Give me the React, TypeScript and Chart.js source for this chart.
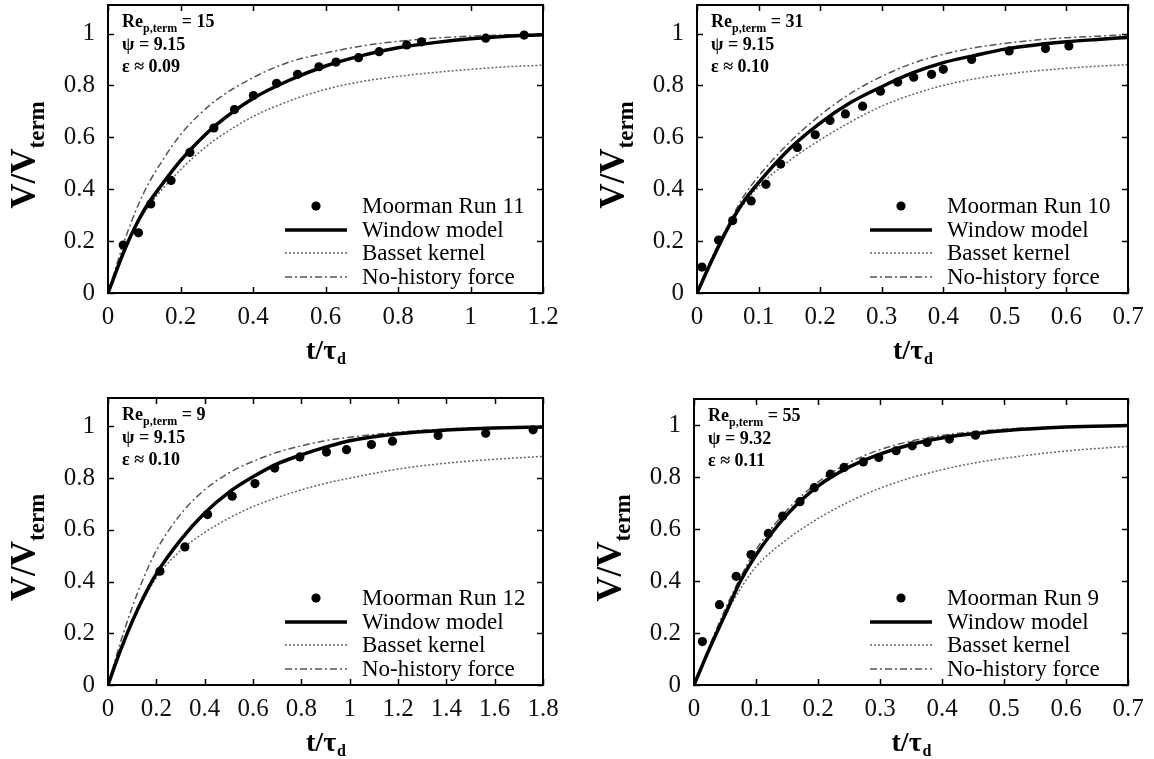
import React, { useEffect, useRef } from "react";
import { Chart, registerables } from "chart.js";

Chart.register(...registerables);

const FONT = '"Liberation Serif", "Times New Roman", serif';

// ---------- Shared tick labels ----------
const yTicks = [0, 0.2, 0.4, 0.6, 0.8, 1];
const xTicks1 = [0, 0.2, 0.4, 0.6, 0.8, 1, 1.2];
const xTicks2 = [0, 0.1, 0.2, 0.3, 0.4, 0.5, 0.6, 0.7];
const xTicks3 = [0, 0.2, 0.4, 0.6, 0.8, 1, 1.2, 1.4, 1.6, 1.8];
const xTicks4 = [0, 0.1, 0.2, 0.3, 0.4, 0.5, 0.6, 0.7];

// ---------- Panel 1: Moorman Run 11 ----------
const run11X = [0.042, 0.084, 0.118, 0.174, 0.226, 0.292, 0.349, 0.401, 0.465, 0.523, 0.582, 0.629, 0.691, 0.748, 0.824, 0.865, 1.042, 1.148];
const run11Y = [0.185, 0.232, 0.343, 0.434, 0.542, 0.636, 0.707, 0.761, 0.808, 0.843, 0.872, 0.89, 0.907, 0.93, 0.956, 0.968, 0.982, 0.994];
const curve1X = [0, 0.05, 0.1, 0.15, 0.2, 0.25, 0.3, 0.4, 0.5, 0.6, 0.7, 0.8, 0.9, 1.0, 1.1, 1.2];
const window1Y = [0, 0.18, 0.32, 0.42, 0.51, 0.585, 0.65, 0.75, 0.82, 0.875, 0.915, 0.945, 0.965, 0.98, 0.99, 0.995];
const basset1Y = [0, 0.18, 0.31, 0.4, 0.475, 0.54, 0.595, 0.68, 0.74, 0.785, 0.815, 0.835, 0.85, 0.862, 0.872, 0.878];
const nohist1Y = [0, 0.22, 0.39, 0.51, 0.61, 0.685, 0.745, 0.83, 0.89, 0.925, 0.952, 0.97, 0.982, 0.99, 0.995, 0.998];

// ---------- Panel 2: Moorman Run 10 ----------
const run10X = [0.008, 0.035, 0.058, 0.088, 0.112, 0.136, 0.163, 0.192, 0.216, 0.241, 0.269, 0.298, 0.326, 0.352, 0.381, 0.4, 0.446, 0.507, 0.566, 0.604];
const run10Y = [0.1, 0.204, 0.279, 0.355, 0.419, 0.497, 0.561, 0.61, 0.665, 0.69, 0.72, 0.778, 0.813, 0.832, 0.843, 0.862, 0.9, 0.933, 0.942, 0.952];
const curve2X = [0, 0.025, 0.05, 0.075, 0.1, 0.15, 0.2, 0.25, 0.3, 0.35, 0.4, 0.45, 0.5, 0.55, 0.6, 0.65, 0.7];
const window2Y = [0, 0.13, 0.25, 0.35, 0.425, 0.555, 0.655, 0.735, 0.795, 0.848, 0.888, 0.915, 0.94, 0.956, 0.968, 0.977, 0.985];
const basset2Y = [0, 0.13, 0.245, 0.34, 0.41, 0.51, 0.59, 0.66, 0.72, 0.765, 0.8, 0.825, 0.843, 0.856, 0.866, 0.874, 0.88];
const nohist2Y = [0, 0.14, 0.26, 0.37, 0.45, 0.58, 0.685, 0.77, 0.835, 0.885, 0.92, 0.945, 0.962, 0.975, 0.984, 0.99, 0.995];

// ---------- Panel 3: Moorman Run 12 ----------
const run12X = [0.215, 0.318, 0.412, 0.514, 0.608, 0.69, 0.794, 0.904, 0.987, 1.09, 1.177, 1.366, 1.563, 1.759];
const run12Y = [0.44, 0.534, 0.659, 0.73, 0.779, 0.839, 0.882, 0.901, 0.91, 0.93, 0.943, 0.965, 0.974, 0.987];
const curve3X = [0, 0.05, 0.1, 0.15, 0.2, 0.3, 0.4, 0.5, 0.6, 0.7, 0.8, 0.9, 1.0, 1.2, 1.4, 1.6, 1.8];
const window3Y = [0, 0.13, 0.245, 0.345, 0.43, 0.56, 0.665, 0.745, 0.805, 0.855, 0.89, 0.92, 0.945, 0.972, 0.986, 0.994, 0.998];
const basset3Y = [0, 0.13, 0.24, 0.335, 0.415, 0.52, 0.59, 0.645, 0.69, 0.725, 0.755, 0.78, 0.8, 0.835, 0.858, 0.873, 0.884];
const nohist3Y = [0, 0.16, 0.3, 0.42, 0.52, 0.66, 0.755, 0.82, 0.865, 0.9, 0.925, 0.945, 0.958, 0.978, 0.99, 0.996, 0.999];

// ---------- Panel 4: Moorman Run 9 ----------
const run9X = [0.0135, 0.041, 0.068, 0.092, 0.12, 0.143, 0.171, 0.194, 0.22, 0.242, 0.273, 0.298, 0.326, 0.352, 0.376, 0.412, 0.454];
const run9Y = [0.167, 0.309, 0.418, 0.502, 0.583, 0.65, 0.705, 0.759, 0.811, 0.837, 0.858, 0.875, 0.901, 0.92, 0.933, 0.946, 0.961];
const curve4X = [0, 0.025, 0.05, 0.075, 0.1, 0.15, 0.2, 0.25, 0.3, 0.35, 0.4, 0.45, 0.5, 0.6, 0.7];
const window4Y = [0, 0.14, 0.27, 0.4, 0.5, 0.655, 0.765, 0.838, 0.888, 0.925, 0.95, 0.966, 0.978, 0.992, 0.998];
const basset4Y = [0, 0.14, 0.265, 0.37, 0.455, 0.56, 0.64, 0.705, 0.757, 0.797, 0.828, 0.853, 0.872, 0.9, 0.918];
const nohist4Y = [0, 0.15, 0.29, 0.415, 0.52, 0.672, 0.78, 0.855, 0.905, 0.938, 0.96, 0.974, 0.984, 0.994, 0.999];

// ---------- Labels ----------
const seriesLabels = ["Window model", "Basset kernel", "No-history force"];
const runLabels = ["Moorman Run 11", "Moorman Run 10", "Moorman Run 12", "Moorman Run 9"];
const reValues = ["15", "31", "9", "55"];
const psiValues = ["9.15", "9.15", "9.15", "9.32"];
const epsValues = ["0.09", "0.10", "0.10", "0.11"];

const zip = (xs: number[], ys: number[]) => xs.map((x, i) => ({ x, y: ys[i] }));

type PanelCfg = {
  left: number; top: number; w: number; h: number;
  plotL: number; plotR: number; plotT: number; plotB: number;
  xMax: number; yMax: number; xTicks: number[];
  runX: number[]; runY: number[]; curveX: number[];
  windowY: number[]; bassetY: number[]; nohistY: number[];
  idx: number;
};

const panels: PanelCfg[] = [
  { left: 0, top: 0, w: 577, h: 380, plotL: 108, plotR: 543, plotT: 5, plotB: 293, xMax: 1.2, yMax: 1.11, xTicks: xTicks1,
    runX: run11X, runY: run11Y, curveX: curve1X, windowY: window1Y, bassetY: basset1Y, nohistY: nohist1Y, idx: 0 },
  { left: 577, top: 0, w: 577, h: 380, plotL: 697, plotR: 1128, plotT: 5, plotB: 293, xMax: 0.7, yMax: 1.11, xTicks: xTicks2,
    runX: run10X, runY: run10Y, curveX: curve2X, windowY: window2Y, bassetY: basset2Y, nohistY: nohist2Y, idx: 1 },
  { left: 0, top: 380, w: 577, h: 379, plotL: 108, plotR: 543, plotT: 398, plotB: 685, xMax: 1.8, yMax: 1.11, xTicks: xTicks3,
    runX: run12X, runY: run12Y, curveX: curve3X, windowY: window3Y, bassetY: basset3Y, nohistY: nohist3Y, idx: 2 },
  { left: 577, top: 380, w: 577, h: 379, plotL: 694, plotR: 1128, plotT: 399, plotB: 685, xMax: 0.7, yMax: 1.1, xTicks: xTicks4,
    runX: run9X, runY: run9Y, curveX: curve4X, windowY: window4Y, bassetY: basset4Y, nohistY: nohist4Y, idx: 3 },
];

const BASSET_COLOR = "#666";
const NOHIST_COLOR = "#555";
const BASSET_DASH = [2, 2];
const NOHIST_DASH = [7, 3, 2, 3];

function makeDecor(idx: number) {
  return {
    id: "decor" + idx,
    afterDraw(chart: any) {
      const { ctx, chartArea } = chart;
      const { left, right, top, bottom } = chartArea;
      const xs = chart.scales.x;
      const ys = chart.scales.y;
      ctx.save();
      // frame
      ctx.strokeStyle = "#000";
      ctx.lineWidth = 2;
      ctx.setLineDash([]);
      ctx.strokeRect(left, top, right - left, bottom - top);
      // inward tick marks
      ctx.lineWidth = 1.5;
      const tl = 6;
      xs.ticks.forEach((t: any) => {
        const px = Math.round(xs.getPixelForValue(t.value)) + 0.5;
        ctx.beginPath();
        ctx.moveTo(px, bottom); ctx.lineTo(px, bottom - tl);
        ctx.moveTo(px, top); ctx.lineTo(px, top + tl);
        ctx.stroke();
      });
      ys.ticks.forEach((t: any) => {
        const py = Math.round(ys.getPixelForValue(t.value)) + 0.5;
        ctx.beginPath();
        ctx.moveTo(left, py); ctx.lineTo(left + tl, py);
        ctx.moveTo(right, py); ctx.lineTo(right - tl, py);
        ctx.stroke();
      });

      ctx.fillStyle = "#000";
      ctx.textBaseline = "alphabetic";
      ctx.textAlign = "left";

      // annotation (top-left)
      const ax = left + 14;
      ctx.font = `bold 18px ${FONT}`;
      ctx.fillText("Re", ax, top + 22);
      const w = ctx.measureText("Re").width;
      ctx.font = `bold 12px ${FONT}`;
      ctx.fillText("p,term", ax + w, top + 27);
      const w2 = ctx.measureText("p,term").width;
      ctx.font = `bold 18px ${FONT}`;
      ctx.fillText(" = " + reValues[idx], ax + w + w2, top + 22);
      ctx.fillText("ψ = " + psiValues[idx], ax, top + 45);
      ctx.fillText("ε ≈ " + epsValues[idx], ax, top + 67);

      // legend (bottom-right)
      const textX = right - 181;
      const sampleL = right - 258;
      const sampleR = right - 196;
      const rows = [bottom - 87, bottom - 63, bottom - 40, bottom - 16];
      ctx.font = `23px ${FONT}`;
      ctx.textBaseline = "middle";
      const labels = [runLabels[idx], ...seriesLabels];
      labels.forEach((lab, i) => ctx.fillText(lab, textX, rows[i] + 1));
      // markers
      ctx.beginPath();
      ctx.arc((sampleL + sampleR) / 2, rows[0], 4.6, 0, Math.PI * 2);
      ctx.fill();
      ctx.lineCap = "butt";
      ctx.strokeStyle = "#000";
      ctx.lineWidth = 3.5;
      ctx.beginPath(); ctx.moveTo(sampleL, rows[1]); ctx.lineTo(sampleR, rows[1]); ctx.stroke();
      ctx.strokeStyle = BASSET_COLOR; ctx.lineWidth = 1.5; ctx.setLineDash(BASSET_DASH);
      ctx.beginPath(); ctx.moveTo(sampleL, rows[2]); ctx.lineTo(sampleR, rows[2]); ctx.stroke();
      ctx.strokeStyle = NOHIST_COLOR; ctx.setLineDash(NOHIST_DASH);
      ctx.beginPath(); ctx.moveTo(sampleL, rows[3]); ctx.lineTo(sampleR, rows[3]); ctx.stroke();
      ctx.setLineDash([]);

      // x title t/τ_d
      ctx.textBaseline = "alphabetic";
      ctx.fillStyle = "#000";
      ctx.font = `bold 28px ${FONT}`;
      const tMain = "t/τ";
      const wm = ctx.measureText(tMain).width;
      ctx.font = `bold 16px ${FONT}`;
      const ws = ctx.measureText("d").width;
      const cx = (left + right) / 2;
      const sx = cx - (wm + ws) / 2;
      ctx.font = `bold 28px ${FONT}`;
      ctx.fillText(tMain, sx, bottom + 66);
      ctx.font = `bold 16px ${FONT}`;
      ctx.fillText("d", sx + wm + 1, bottom + 71);

      // y title V/V_term
      ctx.save();
      ctx.translate(left - 73, (top + bottom) / 2 + 6);
      ctx.rotate(-Math.PI / 2);
      ctx.font = `bold 35px ${FONT}`;
      const vm = ctx.measureText("V/V").width;
      ctx.font = `bold 23px ${FONT}`;
      const vs = ctx.measureText("term").width;
      const vx = -(vm + vs) / 2;
      ctx.font = `bold 35px ${FONT}`;
      ctx.fillText("V/V", vx, 0);
      ctx.font = `bold 23px ${FONT}`;
      ctx.fillText("term", vx + vm, 9);
      ctx.restore();

      ctx.restore();
    },
  };
}

const fmt = (v: number) => String(Math.round(v * 10) / 10);

function Panel({ cfg }: { cfg: PanelCfg }) {
  const ref = useRef<HTMLCanvasElement | null>(null);
  useEffect(() => {
    if (!ref.current) return;
    const yAxisW = cfg.plotL - cfg.left;
    const xAxisH = cfg.top + cfg.h - cfg.plotB;
    const chart = new Chart(ref.current, {
      type: "scatter",
      data: {
        datasets: [
          {
            label: runLabels[cfg.idx],
            data: zip(cfg.runX, cfg.runY),
            showLine: false,
            pointRadius: 4.6,
            pointBackgroundColor: "#000",
            pointBorderWidth: 0,
            clip: 8,
            order: 0,
          } as any,
          {
            label: seriesLabels[0],
            data: zip(cfg.curveX, cfg.windowY),
            showLine: true,
            borderColor: "#000",
            borderWidth: 3.5,
            pointRadius: 0,
            cubicInterpolationMode: "monotone",
            order: 1,
          },
          {
            label: seriesLabels[1],
            data: zip(cfg.curveX, cfg.bassetY),
            showLine: true,
            borderColor: BASSET_COLOR,
            borderWidth: 1.5,
            borderDash: BASSET_DASH,
            pointRadius: 0,
            cubicInterpolationMode: "monotone",
            order: 2,
          },
          {
            label: seriesLabels[2],
            data: zip(cfg.curveX, cfg.nohistY),
            showLine: true,
            borderColor: NOHIST_COLOR,
            borderWidth: 1.5,
            borderDash: NOHIST_DASH,
            pointRadius: 0,
            cubicInterpolationMode: "monotone",
            order: 3,
          },
        ],
      },
      options: {
        animation: false,
        responsive: false,
        maintainAspectRatio: false,
        events: [],
        layout: {
          padding: { left: 0, top: cfg.plotT - cfg.top, right: cfg.left + cfg.w - cfg.plotR, bottom: 0 },
        },
        plugins: { legend: { display: false }, tooltip: { enabled: false }, title: { display: false } },
        scales: {
          x: {
            type: "linear",
            min: 0,
            max: cfg.xMax,
            afterBuildTicks: (s: any) => { s.ticks = cfg.xTicks.map((v) => ({ value: v })); },
            afterFit: (s: any) => {
              s.height = xAxisH;
              s.paddingLeft = 0; s.paddingRight = 0; s.paddingTop = 0; s.paddingBottom = 0;
            },
            grid: { display: false, drawTicks: false },
            border: { display: false },
            ticks: {
              font: { family: FONT, size: 25 },
              color: "#111",
              padding: 9,
              maxRotation: 0,
              autoSkip: false,
              callback: (v: any) => fmt(Number(v)),
            },
          },
          y: {
            type: "linear",
            min: 0,
            max: cfg.yMax,
            afterBuildTicks: (s: any) => { s.ticks = yTicks.map((v) => ({ value: v })); },
            afterFit: (s: any) => {
              s.width = yAxisW;
              s.paddingLeft = 0; s.paddingRight = 0; s.paddingTop = 0; s.paddingBottom = 0;
            },
            grid: { display: false, drawTicks: false },
            border: { display: false },
            ticks: {
              font: { family: FONT, size: 25 },
              color: "#111",
              padding: 13,
              autoSkip: false,
              callback: (v: any) => fmt(Number(v)),
            },
          },
        },
      },
      plugins: [makeDecor(cfg.idx)],
    });
    return () => chart.destroy();
  }, [cfg]);
  return (
    <canvas
      ref={ref}
      width={cfg.w}
      height={cfg.h}
      style={{ position: "absolute", left: cfg.left, top: cfg.top, width: cfg.w, height: cfg.h, display: "block" }}
    />
  );
}

export default function App() {
  return (
    <div style={{ position: "absolute", left: 0, top: 0, width: 1154, height: 759, background: "#fff", overflow: "hidden" }}>
      {panels.map((p) => (
        <Panel key={p.idx} cfg={p} />
      ))}
    </div>
  );
}
